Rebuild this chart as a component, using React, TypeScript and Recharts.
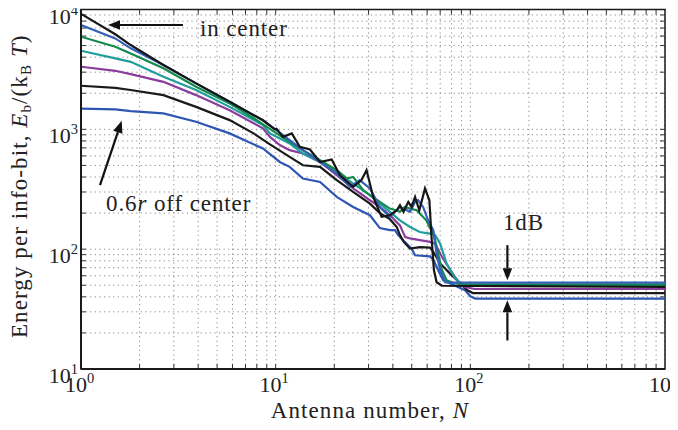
import React from 'react';
import { LineChart, Line, XAxis, YAxis, CartesianGrid, ReferenceArea, ReferenceLine, ReferenceDot } from 'recharts';

// Antenna number N (x) vs energy per info-bit (y), one array per curve
const centerBlack: [number, number][] = [
  [1, 9200], [1.5, 6210], [1.8, 5050], [2.65, 3440], [3.9, 2420], [5.8, 1700], [8.6, 1190], [9.9, 1000],
  [10.1, 1010], [10.9, 865], [12.1, 925], [13.3, 714], [15.0, 679], [16.9, 534], [19.4, 561], [21.4, 414],
  [25, 331], [27.6, 377], [29.3, 456], [31.7, 273], [35, 186], [38.6, 192], [41.9, 211], [43.5, 233],
  [45.4, 205], [48, 248], [49.9, 225], [52, 273], [54.7, 211], [58.5, 321], [61.6, 256], [63.2, 126],
  [65, 67], [67.1, 53], [71.5, 49.5], [1000, 48.5],
];
const blueA: [number, number][] = [
  [1, 7430], [1.5, 5740], [1.8, 4740], [2.65, 3440], [3.9, 2420], [5.8, 1700], [8.6, 1190], [9.35, 1080],
  [11.8, 813], [13.8, 670], [16.9, 534], [20.6, 428], [24.1, 331], [27, 377], [30.5, 321], [34.3, 225],
  [38.6, 186], [43.5, 225], [49, 205], [52, 248], [53.9, 256], [57.2, 225], [60.7, 174], [64.5, 144],
  [67.1, 92], [69.9, 67], [74.2, 53], [78.7, 52.6], [1000, 52.6],
];
const greenC: [number, number][] = [
  [1, 5930], [1.5, 4890], [1.8, 4300], [2.65, 3230], [3.9, 2265], [5.8, 1645], [8, 1194], [10.1, 925],
  [11.8, 787], [13.8, 670], [16.9, 553], [20.6, 456], [23.2, 389], [25, 401], [28.2, 310], [30.5, 282],
  [38.6, 218], [41, 212], [43.5, 205], [46, 225], [49, 218], [53, 211], [59.4, 174], [62.1, 149],
  [64.5, 139], [68.3, 92], [71.5, 67], [75.5, 55], [83, 52], [90, 50.9], [1000, 50.9],
];
const tealC: [number, number][] = [
  [1, 4530], [1.5, 3910], [1.8, 3660], [2.65, 2750], [3.9, 2130], [5.8, 1540], [8.6, 1084], [9.35, 925],
  [11.8, 762], [13.8, 629], [16.9, 534], [20.6, 442], [25, 353], [30.5, 282], [34.3, 240], [38.6, 205],
  [43.5, 174], [49, 153], [55, 139], [62, 135], [66, 131], [70, 111], [75.5, 76], [83, 58.6], [89, 52],
  [95, 49.3], [1000, 49.3],
];
const purpleC: [number, number][] = [
  [1, 3330], [1.5, 3080], [1.8, 2890], [2.65, 2490], [3.9, 1930], [5.8, 1445], [8.6, 1018], [9.35, 865],
  [10.5, 740], [11.8, 670], [13.8, 629], [16.9, 534], [20.6, 414], [25, 321], [30.5, 256], [34.3, 225],
  [38.6, 192], [43.5, 158], [46.3, 126], [49, 123], [55, 119], [62, 115], [66, 111], [71.5, 86], [79, 67],
  [87, 53], [94, 48.3], [105, 46.5], [1000, 46.5],
];
const blackB: [number, number][] = [
  [1, 2310], [1.5, 2220], [1.8, 2130], [2.65, 1930], [3.9, 1540], [5.8, 1194], [7.7, 925], [9.35, 750],
  [11.8, 589], [13.8, 501], [16.9, 486], [20.6, 377], [25, 301], [30.5, 240], [34.3, 200], [38.6, 178],
  [41.9, 153], [43.5, 131], [45.5, 115], [49, 101], [55, 104], [62, 103], [64.5, 95], [70, 76],
  [78.7, 62.5], [88.8, 52], [96.5, 45.4], [103, 43], [1000, 43],
];
const offBlue: [number, number][] = [
  [1, 1490], [1.5, 1466], [1.8, 1420], [2.65, 1358], [3.9, 1156], [5.8, 925], [8.6, 692], [10.5, 534],
  [11.8, 486], [13.8, 389], [16.9, 364], [20.6, 273], [25, 225], [30.5, 192], [34.3, 150], [38.6, 144],
  [41, 144], [42.6, 131], [46, 115], [49.9, 101], [52, 89], [62, 87], [64.5, 81.8], [68.3, 67], [72.5, 55],
  [83.6, 49.5], [94, 45.4], [100, 40.4], [106, 38.7], [1000, 38.6],
];

const xTicks = [1, 2, 3, 4, 5, 6, 7, 8, 9, 10, 20, 30, 40, 50, 60, 70, 80, 90, 100, 200, 300, 400, 500, 600, 700, 800, 900, 1000];
const yTicks = [10, 20, 30, 40, 50, 60, 70, 80, 90, 100, 200, 300, 400, 500, 600, 700, 800, 900, 1000, 2000, 3000, 4000, 5000, 6000, 7000, 8000, 9000, 10000];

const series = [
  { name: 'off-blue', pts: offBlue, color: '#2f56b3' },
  { name: 'black-b', pts: blackB, color: '#1a1a1a' },
  { name: 'purple', pts: purpleC, color: '#8b3d9e' },
  { name: 'teal', pts: tealC, color: '#1f9e9c' },
  { name: 'green', pts: greenC, color: '#138a4c' },
  { name: 'blue-a', pts: blueA, color: '#3560b8' },
  { name: 'center-black', pts: centerBlack, color: '#161616' },
];

const FONT = '"Liberation Serif", "Times New Roman", serif';
const TXT = 23;
// inside tick length expressed as a factor on each log axis (~5px)
const Y_TICK_F = 1.1;
const X_TICK_F = 1.06;

const isPow10 = (v: number) => {
  const e = Math.round(Math.log10(v));
  return Math.abs(Math.pow(10, e) - v) < 1e-6 ? e : null;
};

const XTick = (props: any) => {
  const { x, y, payload } = props;
  const e = isPow10(payload.value);
  if (e === null) return <g />;
  return (
    <text x={x - 1.5} y={y + 15} textAnchor="middle" fontFamily={FONT} fontSize={22} fill="#222">
      <tspan>10</tspan>
      <tspan dy={-9} fontSize={14.5}>{e}</tspan>
    </text>
  );
};

const YTick = (props: any) => {
  const { x, y, payload } = props;
  const e = isPow10(payload.value);
  if (e === null) return <g />;
  return (
    <text x={x + 5} y={y + 14} textAnchor="end" fontFamily={FONT} fontSize={22} fill="#222">
      <tspan>10</tspan>
      <tspan dy={-9} fontSize={14.5}>{e}</tspan>
    </text>
  );
};

const Arrow = (props: any) => {
  const { x1, y1, x2, y2 } = props;
  const dx = x2 - x1;
  const dy = y2 - y1;
  const len = Math.hypot(dx, dy) || 1;
  const ux = dx / len;
  const uy = dy / len;
  const hl = 12;
  const hw = 4.8;
  const bx = x2 - ux * hl;
  const by = y2 - uy * hl;
  const px = -uy;
  const py = ux;
  return (
    <g>
      <line x1={x1} y1={y1} x2={bx} y2={by} stroke="#111" strokeWidth={2.2} />
      <polygon points={`${x2},${y2} ${bx + px * hw},${by + py * hw} ${bx - px * hw},${by - py * hw}`} fill="#111" />
    </g>
  );
};

const TickMark = (props: any) => (
  <line x1={props.x1} y1={props.y1} x2={props.x2} y2={props.y2} stroke="#333" strokeWidth={1} />
);

const makeText = (content: React.ReactNode) => (p: any) => (
  <text x={p.cx} y={p.cy} fontFamily={FONT} fontSize={TXT} fill="#222" letterSpacing={0.9}>
    {content}
  </text>
);

export default function App() {
  const innerX = xTicks.slice(1, -1);
  const innerY = yTicks.slice(1, -1);
  return (
    <div style={{ margin: '-8px 0 0 -8px', width: 678, height: 430 }}>
      <LineChart width={678} height={430} margin={{ top: 9.5, right: 13, bottom: 0, left: 0 }}>
        <CartesianGrid stroke="#8a8a8a" strokeDasharray="1.2 3.4" strokeWidth={1} />
        <XAxis
          dataKey="n"
          type="number"
          scale="log"
          domain={[1, 1000]}
          allowDataOverflow
          ticks={xTicks}
          interval={0}
          tickLine={false}
          axisLine={{ stroke: '#1a1a1a', strokeWidth: 2 }}
          tick={<XTick />}
          height={61}
          label={{
            content: (p: any) => {
              const vb = p.viewBox;
              return (
                <text x={vb.x + vb.width / 2 - 3} y={vb.y + 49} textAnchor="middle" fontFamily={FONT} fontSize={TXT} fill="#222" letterSpacing={1.1}>
                  Antenna number, <tspan fontStyle="italic">N</tspan>
                </text>
              );
            },
          }}
        />
        <YAxis
          dataKey="v"
          type="number"
          scale="log"
          domain={[10, 10000]}
          allowDataOverflow
          ticks={yTicks}
          interval={0}
          tickLine={false}
          axisLine={{ stroke: '#1a1a1a', strokeWidth: 2 }}
          tick={<YTick />}
          width={81}
          label={{
            content: (p: any) => {
              const vb = p.viewBox;
              const cx = 27;
              const cy = vb.y + vb.height / 2 - 3;
              return (
                <text x={cx} y={cy} textAnchor="middle" transform={`rotate(-90, ${cx}, ${cy})`} fontFamily={FONT} fontSize={TXT} fill="#222" letterSpacing={1.1}>
                  Energy per info-bit, <tspan fontStyle="italic">E</tspan>
                  <tspan fontSize={15} dy={4}>b</tspan>
                  <tspan dy={-4}>/(k</tspan>
                  <tspan fontSize={15} dy={4}>B</tspan>
                  <tspan dy={-4} fontStyle="italic"> T</tspan>
                  <tspan>)</tspan>
                </text>
              );
            },
          }}
        />
        <ReferenceArea x1={1} x2={1000} y1={10} y2={10000} fill="none" stroke="#1a1a1a" strokeWidth={1.5} ifOverflow="visible" />
        {innerX.map((t) => (
          <ReferenceLine key={`bx${t}`} segment={[{ x: t, y: 10 }, { x: t, y: 10 * Y_TICK_F }]} shape={TickMark} ifOverflow="visible" />
        ))}
        {innerX.map((t) => (
          <ReferenceLine key={`tx${t}`} segment={[{ x: t, y: 10000 }, { x: t, y: 10000 / Y_TICK_F }]} shape={TickMark} ifOverflow="visible" />
        ))}
        {innerY.map((t) => (
          <ReferenceLine key={`ly${t}`} segment={[{ x: 1, y: t }, { x: X_TICK_F, y: t }]} shape={TickMark} ifOverflow="visible" />
        ))}
        {innerY.map((t) => (
          <ReferenceLine key={`ry${t}`} segment={[{ x: 1000, y: t }, { x: 1000 / X_TICK_F, y: t }]} shape={TickMark} ifOverflow="visible" />
        ))}
        {series.map((s) => (
          <Line
            key={s.name}
            data={s.pts.map(([n, v]) => ({ n, v }))}
            dataKey="v"
            type="linear"
            stroke={s.color}
            strokeWidth={2.2}
            dot={false}
            isAnimationActive={false}
          />
        ))}
        <ReferenceLine segment={[{ x: 3.34, y: 7422 }, { x: 1.376, y: 7422 }]} shape={Arrow} ifOverflow="visible" />
        <ReferenceLine segment={[{ x: 1.252, y: 342 }, { x: 1.618, y: 1178 }]} shape={Arrow} ifOverflow="visible" />
        <ReferenceLine segment={[{ x: 155, y: 108 }, { x: 155, y: 55 }]} shape={Arrow} ifOverflow="visible" />
        <ReferenceLine segment={[{ x: 155, y: 17.3 }, { x: 155, y: 37.4 }]} shape={Arrow} ifOverflow="visible" />
        <ReferenceDot x={4.08} y={6010} r={0} ifOverflow="visible" shape={makeText('in center')} />
        <ReferenceDot
          x={1.344}
          y={207.5}
          r={0}
          ifOverflow="visible"
          shape={makeText(<>0.6<tspan fontStyle="italic">r</tspan> off center</>)}
        />
        <ReferenceDot x={147} y={144} r={0} ifOverflow="visible" shape={makeText('1dB')} />
      </LineChart>
    </div>
  );
}
